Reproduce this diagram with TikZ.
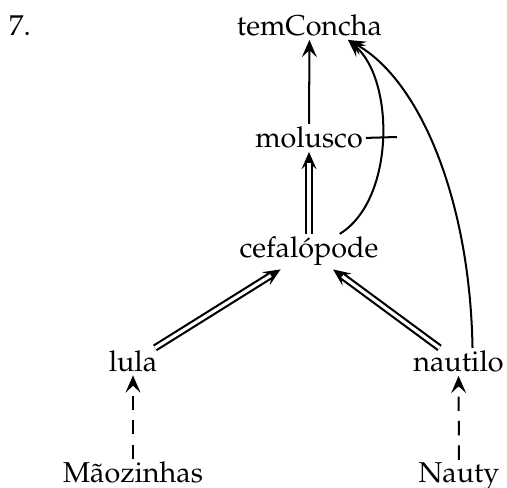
\documentclass[tikz,border=0pt]{standalone}
\usepackage[T1]{fontenc}
\usepackage{mathpazo}
\usetikzlibrary{arrows.meta}

\begin{document}
\begin{tikzpicture}[x=0.348pt, y=-0.348pt, line width=0.7pt,
    >={Stealth[length=6pt, width=5.2pt, inset=2.4pt]},
    concept/.style={inner sep=0.8pt, anchor=base},
    isa/.style={->, preaction={draw, -, line width=2.6pt, shorten >=4pt},
      postaction={draw=white, -, line width=1.1pt, shorten >=4pt}},
    inst/.style={dash pattern=on 5pt off 3.5pt, ->}]
  \useasboundingbox (0,0) rectangle (507,488);

  \node[concept] (num) at (20,36) {7.};
  \node[concept] (tc) at (309.5,36) {temConcha};
  \node[concept] (mol) at (309,148) {molusco};
  \node[concept] (cef) at (309,258) {cefal\'opode};
  \node[concept] (lula) at (133,372) {lula};
  \node[concept] (naut) at (458.5,372) {nautilo};
  \node[concept] (maoz) at (133,483) {M\~aozinhas};
  \node[concept] (nauty) at (459,483) {Nauty};
  \coordinate (tick) at (397,137);

  \draw[->] (mol) -- (tc);
  \draw[isa] (cef) -- (mol);
  \draw[isa] (lula) -- (cef);
  \draw[isa] (naut) -- (cef);
  \draw[inst] (maoz) -- (lula);
  \draw[inst] (nauty) -- (naut);
  \draw[->] (cef.30) .. controls (395,200) and (395,80) .. (tc.-20);
  \draw[->] (naut.45) .. controls (470,200) and (420,80) .. (tc.-20);
  \draw (mol.east) -- (tick);
\end{tikzpicture}
\end{document}
